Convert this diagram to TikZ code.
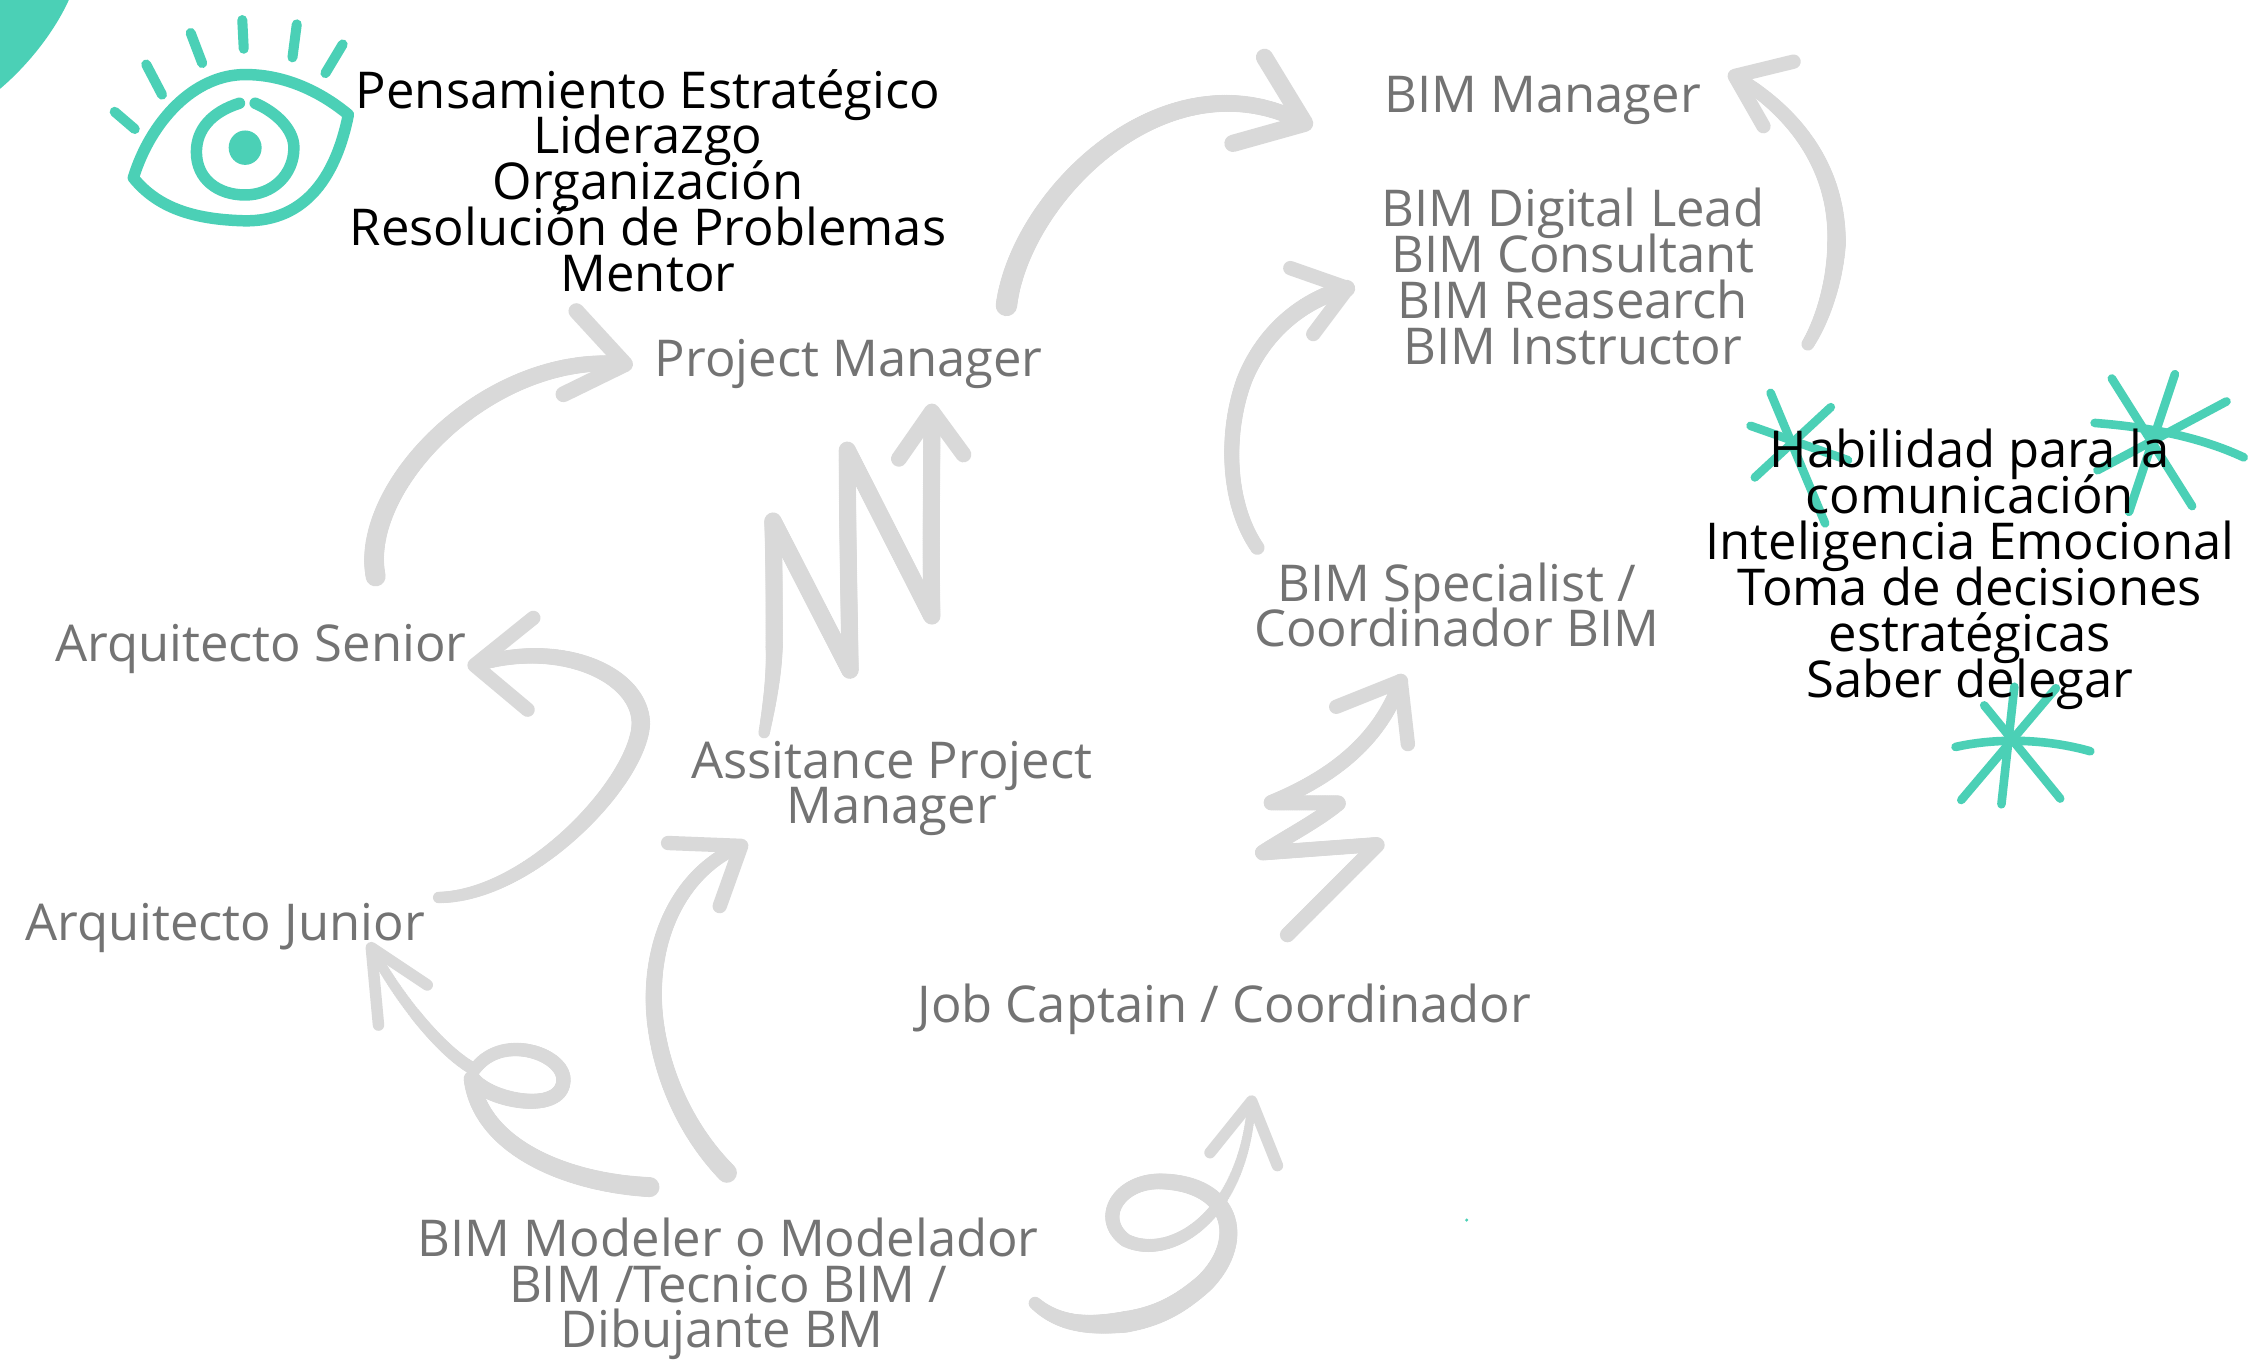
\documentclass[tikz,border=0pt]{standalone}
\usepackage{fontspec}
\usetikzlibrary{decorations.markings}
\setmainfont{Open Sans}
\AtBeginDocument{\lineskiplimit=-60pt\relax}
\definecolor{teal1}{HTML}{4BD0B6}
\definecolor{arrowgray}{HTML}{D9D9D9}
\definecolor{txtgray}{HTML}{737373}
\tikzset{
 lab/.style={align=center,inner sep=0pt,font=\fontsize{35.4}{32}\selectfont,text=txtgray},
 blk/.style={lab,text=black},
 sk/.style={draw=arrowgray,line width=9pt,line cap=round,line join=round},
 tealline/.style={draw=teal1,line width=6pt,line cap=round,line join=round},
 taper/.style n args={2}{postaction={decorate},decoration={markings,
   mark=between positions 0 and 1 step 1.5pt with {
     \pgfmathsetmacro\tpr{(#1+(#2-#1)*\pgfkeysvalueof{/pgf/decoration/mark info/distance from start}/\pgfdecoratedpathlength)/2}
     \fill[arrowgray] (0,0) circle[radius=\tpr pt];}}},
}
\begin{document}
\begin{tikzpicture}[x=1pt,y=-1pt]
\useasboundingbox (0,0) rectangle (1568,950);
\fill[white] (0,0) rectangle (1568,950);
% corner
\fill[teal1] (0,0) -- (48,0) .. controls (38,22) and (20,45) .. (0,62) -- cycle;
% eye
\draw[tealline,line width=8pt] (93,124) .. controls (105,85) and (135,52) .. (171,52) .. controls (200,52) and (225,65) .. (243,80) .. controls (235,120) and (215,155) .. (170,154) .. controls (135,153) and (110,145) .. (93,124);
\draw[tealline,line width=8pt] (167,72) .. controls (148,78) and (137,90) .. (137,106) .. controls (137,125) and (152,136) .. (171,136) .. controls (190,136) and (205,122) .. (205,103) .. controls (205,90) and (192,78) .. (178,72);
\fill[teal1] (171,103) ellipse (11.5 and 12);
\foreach \a/\b/\c/\d in {80/78/94/90,102/45/113/66,133/23/141/44,169/14/170/34,207/17/204/40,239/31/227/51}
  \draw[tealline,line width=7pt] (\a,\b) -- (\c,\d);
% stars
\foreach \a/\b/\c/\d in {1235/274/1273/365,1277/284/1224/333,1221/297/1289/321,
 1473/264/1529/353,1517/261/1485/357,1553/280/1463/328,
 1405/479/1396/561,1384/492/1437/557,1434/480/1368/558}
  \draw[tealline] (\a,\b) -- (\c,\d);
\draw[tealline] (1461,295) .. controls (1500,298) and (1535,305) .. (1565,319);
\draw[tealline] (1364,521) .. controls (1395,514) and (1430,516) .. (1458,524);
\fill[teal1] (1023,851) circle (1.2);
% arrows
\coordinate (a1s) at (453,828);\coordinate (a1t) at (259,661);
\path[taper={14}{7}] (a1s) .. controls (395,825) and (335,800) .. (329,752) .. controls (340,768) and (393,778) .. (393,753) .. controls (393,735) and (350,720) .. (331,746) .. controls (310,735) and (280,700) .. (a1t);
\draw[sk,line width=8pt] (264,715) -- (a1t) -- (298,687);
\coordinate (a2s) at (507,818);\coordinate (a2t) at (517,590);
\path[taper={14}{9}] (a2s) .. controls (470,780) and (456,730) .. (456,695) .. controls (456,645) and (480,605) .. (a2t);
\draw[sk,line width=10pt] (466,588) -- (a2t) -- (502,632);
\coordinate (a3s) at (722,909);\coordinate (a3b) at (785,922);\coordinate (a3t) at (873,768);
\path[taper={9}{15}] (a3s) .. controls (740,925) and (762,925) .. (a3b);
\path[taper={15}{6}] (a3b) .. controls (810,918) and (825,908) .. (840,895) .. controls (870,865) and (860,825) .. (809,824) .. controls (780,824) and (765,850) .. (785,865) .. controls (815,880) and (868,850) .. (a3t);
\draw[sk,line width=8pt] (844,804) -- (a3t) -- (891,813);
\coordinate (a4s) at (898,652);\coordinate (a4t) at (977,475);
\path[taper={10.5}{10.5}] (a4s) -- (961,589) -- (880,595) .. controls (895,585) and (920,572) .. (934,560) -- (886,560) .. controls (915,548) and (960,525) .. (a4t);
\draw[sk,line width=10pt] (932,493) -- (a4t) -- (982,519);
\coordinate (a5s) at (877,382);\coordinate (a5t) at (940,201);
\path[taper={10}{12}] (a5s) .. controls (855,350) and (855,300) .. (868,265) .. controls (880,235) and (905,210) .. (a5t);
\draw[sk,line width=10pt] (900,187) -- (a5t) -- (916,233);
\coordinate (a6s) at (1261,240);\coordinate (a6m) at (1281,170);\coordinate (a6t) at (1210,53);
\path[taper={9}{13}] (a6s) .. controls (1272,222) and (1280,195) .. (a6m);
\path[taper={13}{9}] (a6m) .. controls (1282,120) and (1255,80) .. (a6t);
\draw[sk,line width=10pt] (1251,43) -- (a6t) -- (1230,88);
\coordinate (a7s) at (702,213);\coordinate (a7t) at (910,86);
\path[taper={15}{11}] (a7s) .. controls (712,135) and (815,35) .. (a7t);
\draw[sk,line width=12pt] (882,40) -- (a7t) -- (860,100);
\coordinate (a8s) at (533,511);\coordinate (a8m) at (540,451);\coordinate (a8t) at (650,287);
\path[taper={8}{12}] (a8s) .. controls (537,490) and (540,470) .. (a8m);
\path[taper={12}{12}] (a8m) .. controls (540,420) and (540,390) .. (539,363) -- (593,468) .. controls (592,410) and (591,360) .. (591,314) -- (650,430) .. controls (649,380) and (650,330) .. (a8t);
\draw[sk,line width=11pt] (627,320) -- (a8t) -- (672,317);
\coordinate (a9s) at (262,402);\coordinate (a9t) at (436,254);
\path[taper={14}{11}] (a9s) .. controls (250,340) and (340,245) .. (a9t);
\draw[sk,line width=11pt] (402,217) -- (a9t) -- (393,275);
\coordinate (a10s) at (306,626);\coordinate (a10m) at (447,505);\coordinate (a10t) at (331,464);
\path[taper={8}{13}] (a10s) .. controls (370,625) and (445,545) .. (a10m);
\path[taper={13}{10}] (a10m) .. controls (447,470) and (390,445) .. (a10t);
\draw[sk,line width=10pt] (372,431) -- (a10t) -- (368,495);
% text
\node[blk] (pens) at (452,126) {Pensamiento Estratégico\\Liderazgo\\Organización\\Resolución de Problemas\\Mentor};
\node[lab] (mgr) at (1076,70) {BIM Manager};
\node[lab] (lead) at (1097,193) {BIM Digital Lead\\BIM Consultant\\BIM Reasearch\\BIM Instructor};
\node[lab] (pm) at (592,254) {Project Manager};
\node[lab] (sen) at (182,453) {Arquitecto Senior};
\node[lab] (jun) at (157,647) {Arquitecto Junior};
\node[lab] (apm) at (622,550) {Assitance Project\\Manager};
\node[lab] (spec) at (1016,422) {BIM Specialist /\\Coordinador BIM};
\node[lab] (job) at (854,704) {Job Captain / Coordinador};
\node[lab] (mod) at (508,899) {BIM Modeler o Modelador\\BIM /Tecnico BIM /\\Dibujante BM\hspace*{9pt}};
\node[blk] (hab) at (1374,397) {Habilidad para la\\comunicación\\Inteligencia Emocional\\Toma de decisiones\\estratégicas\\Saber delegar};
\end{tikzpicture}
\end{document}
